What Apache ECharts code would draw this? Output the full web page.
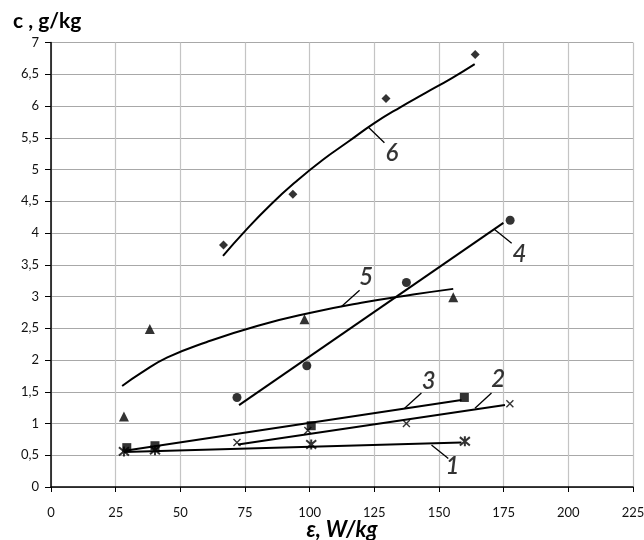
<!DOCTYPE html>
<html>
<head>
<meta charset="utf-8">
<script src="https://cdn.jsdelivr.net/npm/echarts@6/dist/echarts.min.js"></script>
<style>
  html, body { margin: 0; padding: 0; background: #fff; }
  #chart { width: 644px; height: 540px; }
</style>
</head>
<body>
<div id="chart"></div>
<script>
// measured points [eps, c]
const pts1 = [[28.2, 0.56], [40.2, 0.58], [100.6, 0.67], [160, 0.72]];
const pts2 = [[71.9, 0.70], [99.3, 0.89], [137.4, 1.0], [177.4, 1.31]];
const pts3 = [[29.3, 0.62], [40.2, 0.65], [100.6, 0.965], [159.8, 1.41]];
const pts4 = [[71.9, 1.41], [98.9, 1.91], [137.4, 3.22], [177.5, 4.20]];
const pts5 = [[28.2, 1.11], [38.2, 2.49], [98, 2.64], [155.5, 2.99]];
const pts6 = [[66.7, 3.81], [93.5, 4.61], [129.5, 6.12], [164, 6.81]];

// trend lines
const fit1 = [[28.2, 0.55], [158.7, 0.70]];
const fit2 = [[72.3, 0.67], [175.5, 1.29]];
const fit3 = [[28.5, 0.57], [158.7, 1.37]];
const fit4 = [[72.7, 1.29], [174.9, 4.16]];
const fit5 = [[27.5, 1.59], [35, 1.80], [45, 2.04], [60, 2.28], [80, 2.54], [100, 2.74], [120, 2.90], [140, 3.03], [155.5, 3.12]];
const fit6 = [[66.5, 3.64], [75, 4.03], [85, 4.45], [95, 4.82], [105, 5.15], [115, 5.44], [125, 5.73], [135, 5.98], [145, 6.21], [155, 6.44], [163.8, 6.66]];

// curve numbers: leader start, leader end, text position
const tags = [
  { text: "1", from: [147.1, 0.66], to: [153.6, 0.45], at: [155.2, 0.33] },
  { text: "2", from: [163.9, 1.24], to: [170.3, 1.48], at: [172.9, 1.69] },
  { text: "3", from: [136.7, 1.24], to: [143.2, 1.48], at: [146.0, 1.66] },
  { text: "4", from: [171.6, 4.05], to: [178.1, 3.84], at: [181.1, 3.66] },
  { text: "5", from: [112.2, 2.84], to: [119.3, 3.10], at: [121.9, 3.30] },
  { text: "6", from: [122.6, 5.67], to: [128.9, 5.42], at: [131.8, 5.25] }
];

const crossPath = "path://M0,0L10,10M10,0L0,10";
const starPath = "path://M0,0L10,10M10,0L0,10M5,-1L5,11";

const chart = echarts.init(document.getElementById("chart"));

let series = [];
const fits = [fit1, fit2, fit3, fit4, fit5, fit6];
for (let i = 0; i < fits.length; i++) {
  series.push({
    type: "line",
    data: fits[i],
    smooth: i >= 4,
    symbol: "none",
    lineStyle: { color: "#000", width: 2 },
    z: 3
  });
}

function marks(data, symbol, size, stroke) {
  let s = {
    type: "scatter",
    data: data,
    symbol: symbol,
    symbolSize: size,
    itemStyle: { color: "#000" },
    z: 5
  };
  if (stroke) {
    s.itemStyle = { color: "none", borderColor: "#000", borderWidth: stroke };
  }
  return s;
}
series.push(marks(pts1, starPath, 10, 2));
series.push(marks(pts2, crossPath, 7, 1.4));
series.push(marks(pts3, "rect", 9));
series.push(marks(pts4, "circle", 9));
series.push(marks(pts5, "triangle", 10));
series.push(marks(pts6, "diamond", 9));

for (let i = 0; i < tags.length; i++) {
  series.push({
    type: "line",
    data: [tags[i].from, tags[i].to],
    symbol: "none",
    lineStyle: { color: "#000", width: 1.3 },
    z: 4
  });
  series.push({
    type: "scatter",
    data: [tags[i].at],
    symbolSize: 0,
    label: {
      show: true,
      position: "inside",
      formatter: tags[i].text,
      color: "#000",
      fontFamily: "Lato",
      fontStyle: "italic",
      fontWeight: 600,
      fontSize: 24
    },
    z: 6
  });
}

const option = {
  animation: false,
  title: {
    text: "c , g/kg",
    left: 8,
    top: 6,
    textStyle: { fontFamily: "Lato", fontWeight: "bold", fontSize: 21, color: "#000" }
  },
  grid: { left: 51, right: 11, top: 42.5, bottom: 53, containLabel: false, outerBoundsMode: "none" },
  xAxis: {
    type: "value",
    min: 0,
    max: 225,
    interval: 25,
    name: "ε, W/kg",
    nameLocation: "middle",
    nameGap: 32,
    nameMoveOverlap: false,
    nameTextStyle: {
      fontFamily: "Lato", fontStyle: "italic", fontWeight: "bold", fontSize: 22, color: "#000",
      verticalAlign: "top", padding: [0, 0, 0, 0]
    },
    axisLine: { show: true, onZero: false, lineStyle: { color: "#000", width: 1.5 } },
    axisTick: { show: true, length: 5, lineStyle: { color: "#000" } },
    axisLabel: { margin: 19, fontFamily: "Lato", fontSize: 13, color: "#111" },
    splitLine: { show: true, lineStyle: { color: "#c4c4c4", width: 1.2 } }
  },
  yAxis: {
    type: "value",
    min: 0,
    max: 7,
    interval: 0.5,
    axisLine: { show: true, onZero: false, lineStyle: { color: "#000", width: 1.5 } },
    axisTick: { show: true, length: 6, lineStyle: { color: "#000" } },
    axisLabel: {
      margin: 12,
      fontFamily: "Lato",
      fontSize: 13,
      color: "#111",
      formatter: function (v) { return String(v).replace(".", ","); }
    },
    splitLine: { show: true, lineStyle: { color: "#a8a8a8", width: 1.2 } }
  },
  series: series
};
chart.setOption(option);
</script>
</body>
</html>
